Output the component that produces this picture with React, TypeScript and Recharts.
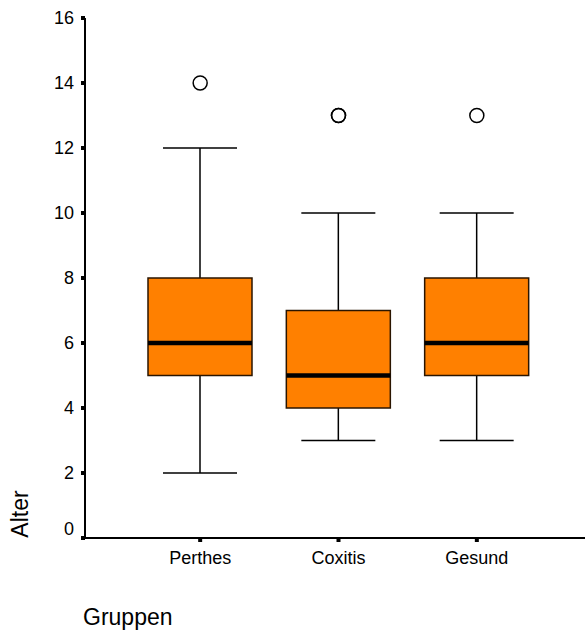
import React from "react";
import { ComposedChart, Bar, XAxis, YAxis, ReferenceDot } from "recharts";

const groups = ["Perthes", "Coxitis", "Gesund"];
const mins = [2, 3, 3];
const q1s = [5, 4, 5];
const medians = [6, 5, 6];
const q3s = [8, 7, 8];
const maxs = [12, 10, 10];
const outliers = [[14], [13, 13], [13]];
const yTicks = [0, 2, 4, 6, 8, 10, 12, 14, 16];

const data = groups.map((g, i) => ({
  group: g,
  range: [mins[i], maxs[i]],
  min: mins[i],
  q1: q1s[i],
  median: medians[i],
  q3: q3s[i],
  max: maxs[i],
}));

const FONT = "'Liberation Sans', Arial, Helvetica, sans-serif";

// whole box drawn from the bar's [min, max] pixel span
function BoxShape(props: any) {
  const { x, y, width, height, payload } = props;
  const top = Math.min(y, y + height);
  const h = Math.abs(height);
  const per = h / (payload.max - payload.min);
  const py = (v: number) => top + (payload.max - v) * per;
  const cx = x + width / 2;
  const cap = 74;
  return (
    <g>
      <line x1={cx} x2={cx} y1={py(payload.max)} y2={py(payload.q3)} stroke="#000" strokeWidth={1.5} />
      <line x1={cx} x2={cx} y1={py(payload.q1)} y2={py(payload.min)} stroke="#000" strokeWidth={1.5} />
      <line x1={cx - cap / 2} x2={cx + cap / 2} y1={py(payload.max)} y2={py(payload.max)} stroke="#000" strokeWidth={1.5} />
      <line x1={cx - cap / 2} x2={cx + cap / 2} y1={py(payload.min)} y2={py(payload.min)} stroke="#000" strokeWidth={1.5} />
      <rect
        x={x}
        y={py(payload.q3)}
        width={width}
        height={py(payload.q1) - py(payload.q3)}
        fill="#FF8000"
        stroke="#2a1500"
        strokeWidth={1.5}
      />
      <line x1={x} x2={x + width} y1={py(payload.median)} y2={py(payload.median)} stroke="#000" strokeWidth={4.5} />
    </g>
  );
}

function YTick(props: any) {
  const { x, y, payload } = props;
  const shift = payload.value === 0 ? -9 : 0;
  return (
    <text x={x} y={y + shift} dy="0.355em" textAnchor="end" fontSize={18} fontFamily={FONT} fill="#000">
      {payload.value}
    </text>
  );
}

export default function App() {
  return (
    <div style={{ position: "absolute", left: 0, top: 0, width: 585, height: 631, background: "#fff" }}>
      <ComposedChart
        width={585}
        height={631}
        data={data}
        margin={{ top: 18, right: 0, bottom: 63, left: 0 }}
      >
        <XAxis
          dataKey="group"
          type="category"
          height={30}
          padding={{ left: 46, right: 39 }}
          axisLine={{ stroke: "#000", strokeWidth: 2 }}
          tickLine={{ stroke: "#000", strokeWidth: 4 }}
          tickSize={4}
          tickMargin={9}
          tick={{ fontSize: 18, fontFamily: FONT, fill: "#000" }}
          interval={0}
        />
        <YAxis
          type="number"
          domain={[0, 16]}
          ticks={yTicks}
          width={85}
          axisLine={{ stroke: "#000", strokeWidth: 2 }}
          tickLine={{ stroke: "#000", strokeWidth: 4 }}
          tickSize={4}
          tickMargin={7}
          tick={<YTick />}
          interval={0}
        />
        <Bar dataKey="range" barSize={104} shape={<BoxShape />} isAnimationActive={false} />
        {groups.map((g, i) =>
          outliers[i].map((v, j) => (
            <ReferenceDot
              key={g + j}
              x={g}
              y={v}
              r={7}
              fill="#fff"
              fillOpacity={0}
              stroke="#000"
              strokeWidth={1.5}
            />
          ))
        )}
      </ComposedChart>
      <svg width={585} height={631} style={{ position: "absolute", left: 0, top: 0, pointerEvents: "none" }}>
        <text x={28} y={514} transform="rotate(-90 28 514)" textAnchor="middle" fontSize={23} fontFamily={FONT} fill="#000">
          Alter
        </text>
        <text x={83} y={625} fontSize={23} fontFamily={FONT} fill="#000">
          Gruppen
        </text>
      </svg>
    </div>
  );
}
